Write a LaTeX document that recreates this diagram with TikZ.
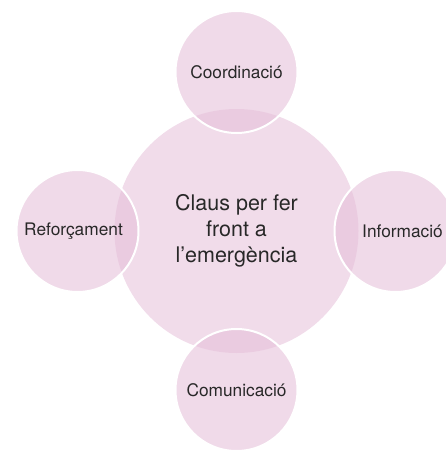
\documentclass[tikz,border=0pt]{standalone}
\usepackage{fontspec}
\setmainfont{TeX Gyre Heros}
\usetikzlibrary{positioning}
\definecolor{rosa}{RGB}{230,193,218}
\definecolor{rosaclar}{RGB}{241,220,234}
\definecolor{textgris}{RGB}{40,40,40}
\tikzset{
node distance=159pt, % centre to centre, because of on grid
on grid,
hub/.style={circle, fill=rosaclar, minimum size=244pt, inner sep=0pt, text=textgris, align=center, font=\fontsize{21.5}{26}\selectfont}, % the big circle in the middle
clau/.style={circle, fill=rosa, fill opacity=0.6, text opacity=1, draw=white, draw opacity=1, line width=2pt, minimum size=122pt, inner sep=0pt, text=textgris, font=\fontsize{17.3}{20}\selectfont}, % the four keys round it
lbl/.style={text=textgris, font=\fontsize{17.3}{20}\selectfont, inner sep=0pt},
}

\begin{document}
\begin{tikzpicture}
            \clip (0,0) rectangle (446pt,-450pt);
            \node[hub] (claus) at (236.5pt,-231pt) {Claus per fer\\front a\\l’emergència};
            \node[clau, above=of claus] (coord) {Coordinació};
            \node[clau, left=of claus] (reforc) {};
            \node[clau, right=of claus] (info) {};
            \node[clau, below=of claus] (comun) {Comunicació};
            \node[lbl, xshift=-4pt] (reforctxt) at (reforc) {Reforçament};
            \node[lbl, xshift=7pt] (infotxt) at (info) {Informació};
\end{tikzpicture}
\end{document}
